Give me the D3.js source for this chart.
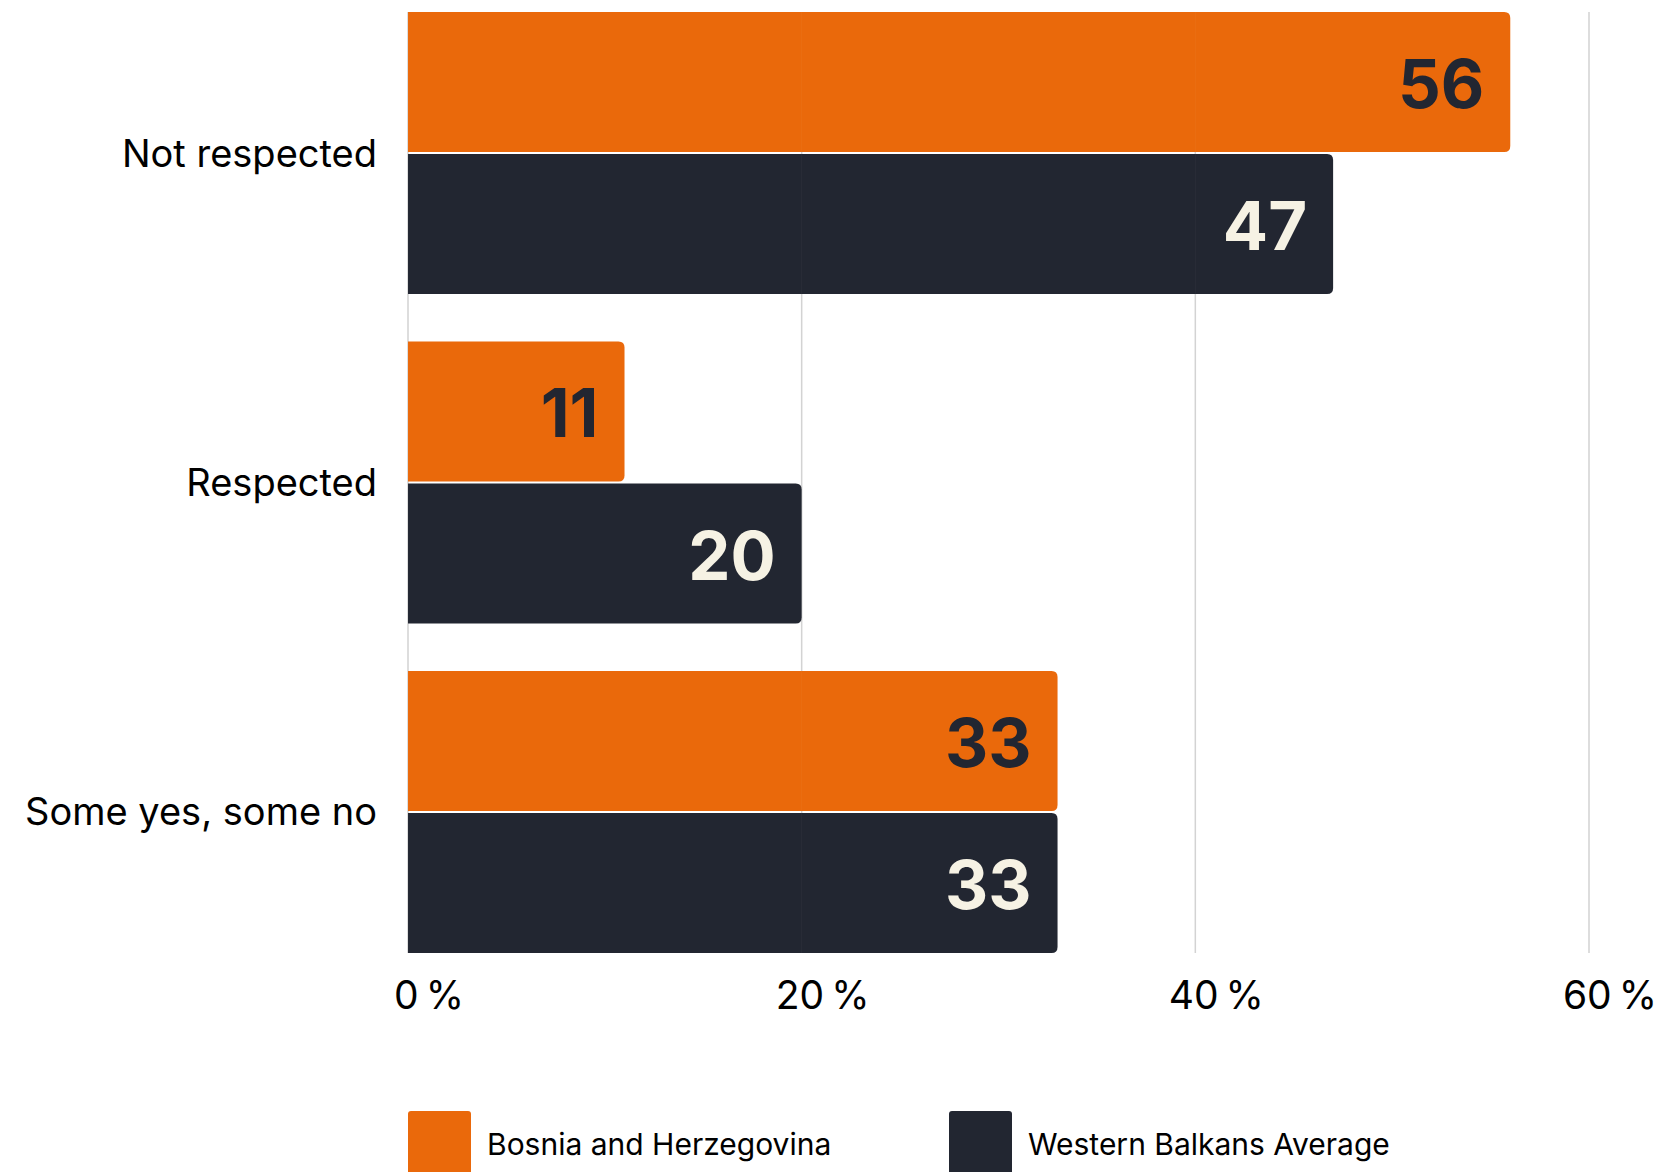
<!DOCTYPE html>
<html>
<head>
<meta charset="utf-8">
<script src="https://cdn.jsdelivr.net/npm/d3@7"></script>
<style>
    body { margin: 0; background: #fff; }
    svg { display: block; font-family: Inter, "Noto Sans", sans-serif; }
</style>
</head>
<body>
<script>
// chart data
var categories = ["Not respected", "Respected", "Some yes, some no"];
var seriesNames = ["Bosnia and Herzegovina", "Western Balkans Average"];
var bosnia = [56, 11, 33];
var balkans = [47, 20, 33];
var xTicks = [0, 20, 40, 60];

function init() {
    var w = 1657;
    var h = 1172;

    var orange = "#ea690b";
    var dark = "#222631";
    var cream = "#f6f2e4";
    var gridColor = "#d2d2d2";

    var svg = d3.select("body").append("svg").attr("width", w).attr("height", h);

    var xScale = d3.scaleLinear().domain([0, 60]).range([408, 1589]);

    var yScale = d3.scaleBand()
        .domain(categories)
        .range([12, 953])
        .paddingInner(0.144)
        .paddingOuter(0);

    var inner = d3.scaleBand()
        .domain(seriesNames)
        .range([0, yScale.bandwidth()])
        .paddingInner(0.014);

    var rows = [];
    for (var i = 0; i < categories.length; i++) {
        rows.push({ cat: categories[i], series: seriesNames[0], value: bosnia[i] });
        rows.push({ cat: categories[i], series: seriesNames[1], value: balkans[i] });
    }

    var color = d3.scaleOrdinal().domain(seriesNames).range([orange, dark]);
    var labelColor = d3.scaleOrdinal().domain(seriesNames).range([dark, cream]);

    // gridlines behind the bars
    svg.append("g")
        .selectAll("line")
        .data(xTicks)
        .enter().append("line")
        .attr("x1", function (d) { return xScale(d); })
        .attr("x2", function (d) { return xScale(d); })
        .attr("y1", yScale.range()[0])
        .attr("y2", yScale.range()[1])
        .attr("stroke", gridColor)
        .attr("stroke-width", 1.5);

    // bar with rounded right end only
    function barPath(d) {
        var x0 = xScale(0);
        var x1 = xScale(d.value);
        var y0 = yScale(d.cat) + inner(d.series);
        var bh = inner.bandwidth();
        var r = 6;
        return "M" + x0 + "," + y0 +
            "H" + (x1 - r) +
            "Q" + x1 + "," + y0 + " " + x1 + "," + (y0 + r) +
            "V" + (y0 + bh - r) +
            "Q" + x1 + "," + (y0 + bh) + " " + (x1 - r) + "," + (y0 + bh) +
            "H" + x0 + "Z";
    }

    svg.append("g")
        .selectAll("path")
        .data(rows)
        .enter().append("path")
        .attr("d", barPath)
        .attr("fill", function (d) { return color(d.series); });

    // faint gridlines showing through
    svg.append("g")
        .selectAll("line")
        .data(xTicks)
        .enter().append("line")
        .attr("x1", function (d) { return xScale(d); })
        .attr("x2", function (d) { return xScale(d); })
        .attr("y1", yScale.range()[0])
        .attr("y2", yScale.range()[1])
        .attr("stroke", "#ffffff")
        .attr("stroke-opacity", 0.035)
        .attr("stroke-width", 1);

    // value labels
    svg.append("g")
        .selectAll("text")
        .data(rows)
        .enter().append("text")
        .attr("x", function (d) { return xScale(d.value) - 26; })
        .attr("y", function (d) { return yScale(d.cat) + inner(d.series) + inner.bandwidth() / 2 + 26; })
        .attr("text-anchor", "end")
        .attr("font-size", 67)
        .attr("font-weight", 700)
        .attr("fill", function (d) { return labelColor(d.series); })
        .text(function (d) { return d.value; });

    // category labels
    svg.append("g")
        .selectAll("text")
        .data(categories)
        .enter().append("text")
        .attr("x", 377)
        .attr("y", function (d) { return yScale(d) + yScale.bandwidth() / 2 + 13.5; })
        .attr("text-anchor", "end")
        .attr("font-size", 38)
        .attr("fill", "#000")
        .text(function (d) { return d; });

    // x tick labels
    svg.append("g")
        .selectAll("text")
        .data(xTicks)
        .enter().append("text")
        .attr("x", function (d) { return xScale(d) + 21; })
        .attr("y", 1009)
        .attr("text-anchor", "middle")
        .attr("font-size", 39)
        .attr("fill", "#000")
        .text(function (d) { return d + "\u2009%"; });

    // legend
    var legendX = [408, 949];
    var legend = svg.append("g")
        .selectAll("g")
        .data(seriesNames)
        .enter().append("g")
        .attr("transform", function (d, i) { return "translate(" + legendX[i] + ",1111)"; });

    legend.append("rect")
        .attr("width", 63)
        .attr("height", 80)
        .attr("rx", 3)
        .attr("fill", function (d) { return color(d); });

    legend.append("text")
        .attr("x", 79)
        .attr("y", 44)
        .attr("font-size", 30)
        .attr("fill", "#000")
        .text(function (d) { return d; });
}

window.onload = init;
</script>
</body>
</html>
